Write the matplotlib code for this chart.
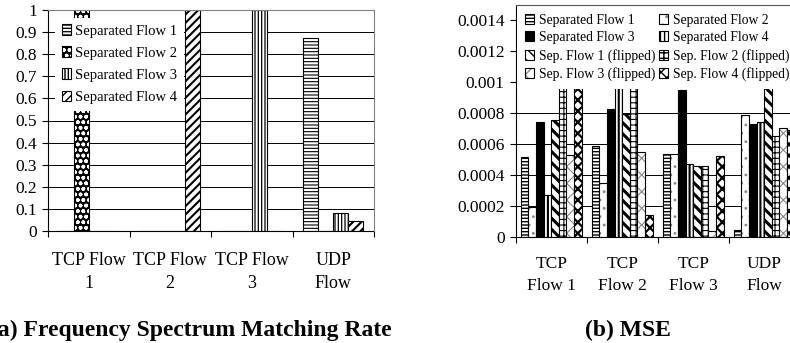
"""Two-panel bar chart: frequency spectrum matching rate (a) and MSE (b)
for separated flows vs. the original TCP/UDP flows."""

import matplotlib
matplotlib.use("Agg")
import matplotlib.pyplot as plt
from matplotlib.legend_handler import HandlerTuple

plt.rcParams["font.family"] = ["Liberation Serif", "DejaVu Serif"]
plt.rcParams["hatch.linewidth"] = 1.0

# ---- panel (a): frequency spectrum matching rate ----
groups_a = ["TCP Flow\n1", "TCP Flow\n2", "TCP Flow\n3", "UDP\nFlow"]
series_a = ["Separated Flow 1", "Separated Flow 2",
            "Separated Flow 3", "Separated Flow 4"]
rate_sf1 = [0.0, 0.0, 0.0, 0.875]
rate_sf2 = [1.0, 0.0, 0.0, 0.0]
rate_sf3 = [0.0, 0.0, 1.0, 0.08]
rate_sf4 = [0.0, 1.0, 0.0, 0.045]
yticks_a = [0, 0.1, 0.2, 0.3, 0.4, 0.5, 0.6, 0.7, 0.8, 0.9, 1.0]
ylabels_a = ["0", "0.1", "0.2", "0.3", "0.4", "0.5", "0.6", "0.7",
             "0.8", "0.9", "1"]

# ---- panel (b): MSE (bars above 0.001 sit behind the legend) ----
groups_b = ["TCP\nFlow 1", "TCP\nFlow 2", "TCP\nFlow 3", "UDP\nFlow"]
series_b = ["Separated Flow 1", "Separated Flow 2", "Separated Flow 3",
            "Separated Flow 4", "Sep. Flow 1 (flipped)",
            "Sep. Flow 2 (flipped)", "Sep. Flow 3 (flipped)",
            "Sep. Flow 4 (flipped)"]
mse_sf1 = [0.000518, 0.000587, 0.000535, 0.000045]
mse_sf2 = [0.000191, 0.000346, 0.000535, 0.000787]
mse_sf3 = [0.000744, 0.000824, 0.000950, 0.000729]
mse_sf4 = [0.000271, 0.00125, 0.000469, 0.000744]
mse_sf1f = [0.000757, 0.000794, 0.000456, 0.00118]
mse_sf2f = [0.00120, 0.00115, 0.000458, 0.000650]
mse_sf3f = [0.000529, 0.000550, 0.0000366, 0.000705]
mse_sf4f = [0.00112, 0.000142, 0.000523, 0.000690]
yticks_b = [0, 0.0002, 0.0004, 0.0006, 0.0008, 0.001, 0.0012, 0.0014]
ylabels_b = ["0", "0.0002", "0.0004", "0.0006", "0.0008", "0.001",
             "0.0012", "0.0014"]

# (face, hatch, hatch colour, hatch linewidth)
STYLE_A = [("white", "-----", "black", 0.8),
           ("black", "ooo", "white", 1.1),
           ("white", "|||||", "black", 0.9),
           ("white", "////", "black", 1.5)]
STYLE_B = [("white", "-----", "black", 1.0),
           ("white", "..", "#888888", 0.8),
           ("black", "", "black", 0.8),
           ("white", "||||", "black", 1.5),
           ("white", "\\\\\\", "black", 2.2),
           ("white", "+++", "black", 0.8),
           ("white", "xx", "#888888", 0.8),
           ("white", "xxx", "black", 1.6)]


def hatched_bars(ax, xs, hs, w, style):
    face, hatch, hcol, hlw = style
    with plt.rc_context({"hatch.linewidth": hlw}):
        fill = ax.bar(xs, hs, w, color=face, edgecolor=hcol, hatch=hatch,
                      linewidth=0, zorder=2)
    for p in fill.patches:
        if hasattr(p, "set_hatch_linewidth"):
            p.set_hatch_linewidth(hlw)
    edge = ax.bar(xs, hs, w, fill=False, edgecolor="black", linewidth=0.8,
                  zorder=2)
    return (fill.patches[0], edge.patches[0])


def grouped(ax, values, styles, gap):
    n = len(values)
    w = 1.0 / (n + gap)
    handles = []
    for j, (vals, st) in enumerate(zip(values, styles)):
        xs = [i + 0.5 + (j - (n - 1) / 2) * w for i in range(len(vals))]
        handles.append(hatched_bars(ax, xs, vals, w, st))
    return handles


def style_axes(ax, groups, yticks, ylabels, ylim, xfs, yfs, xpad):
    ax.set_xlim(0, len(groups))
    ax.set_ylim(*ylim)
    ax.set_xticks(range(len(groups) + 1))
    ax.set_xticklabels([])
    ax.set_xticks([i + 0.5 for i in range(len(groups))], minor=True)
    ax.set_xticklabels(groups, minor=True, fontsize=xfs, linespacing=1.45)
    ax.tick_params(axis="x", which="major", direction="out", length=4,
                   width=0.8)
    ax.tick_params(axis="x", which="minor", length=0, pad=xpad)
    ax.set_yticks(yticks)
    ax.set_yticklabels(ylabels, fontsize=yfs)
    ax.tick_params(axis="y", direction="out", length=4, width=0.8, pad=4)
    ax.set_axisbelow(True)
    ax.yaxis.grid(True, color="black", linewidth=0.7)
    for sp in ("left", "bottom"):
        ax.spines[sp].set_color("black")
        ax.spines[sp].set_linewidth(0.8)
    for sp in ("top", "right"):
        ax.spines[sp].set_color("#808080")
        ax.spines[sp].set_linewidth(0.8)
        ax.spines[sp].set_zorder(6)


W, H = 790, 343
fig = plt.figure(figsize=(W / 100, H / 100), dpi=100)

# panel (a)
ax_a = fig.add_axes([48 / W, 1 - 231 / H, 326 / W, 221 / H])
h_a = grouped(ax_a, [rate_sf1, rate_sf2, rate_sf3, rate_sf4], STYLE_A, 1.4)
style_axes(ax_a, groups_a, yticks_a, ylabels_a, (0, 1.0), 13, 12.5, 15)
ax_a.get_ygridlines()[-1].set_visible(False)
leg_a = ax_a.legend(h_a, series_a, handler_map={tuple: HandlerTuple(ndivide=1)},
                    loc="upper left", bbox_to_anchor=(0.022, 0.966),
                    borderaxespad=0, fontsize=10.5, frameon=True,
                    fancybox=False, framealpha=1, borderpad=0.45,
                    labelspacing=0.6, handlelength=0.65, handleheight=0.75,
                    handletextpad=0.28)
leg_a.get_frame().set_edgecolor("none")
leg_a.set_zorder(5)

# panel (b) -- runs past the right edge of the figure, as in the source
ax_b = fig.add_axes([515.7 / W, 1 - 236.7 / H, 284 / W, 232.1 / H])
h_b = grouped(ax_b, [mse_sf1, mse_sf2, mse_sf3, mse_sf4,
                     mse_sf1f, mse_sf2f, mse_sf3f, mse_sf4f], STYLE_B, 1.33)
style_axes(ax_b, groups_b, yticks_b, ylabels_b, (0, 0.0015), 12.5, 12.5, 14)
ax_b.spines["top"].set_color("#555555")
order = [0, 2, 4, 6, 1, 3, 5, 7]
leg_b = ax_b.legend([h_b[k] for k in order], [series_b[k] for k in order],
                    handler_map={tuple: HandlerTuple(ndivide=1)}, ncol=2,
                    loc="upper left", bbox_to_anchor=(0.004, 0.996),
                    borderaxespad=0, fontsize=9.8, frameon=True,
                    fancybox=False, framealpha=1, borderpad=0.6,
                    labelspacing=0.33, handlelength=0.65, handleheight=0.75,
                    handletextpad=0.35, columnspacing=0.3)
leg_b.get_frame().set_edgecolor("none")
leg_b.set_zorder(5)

fig.text(392 / W, 1 - 336 / H, "(a) Frequency Spectrum Matching Rate",
         ha="right", va="baseline", fontsize=17, fontweight="bold")
fig.text(627.5 / W, 1 - 336 / H, "(b) MSE", ha="center", va="baseline",
         fontsize=17, fontweight="bold")

fig.savefig("out.png", dpi=100)
